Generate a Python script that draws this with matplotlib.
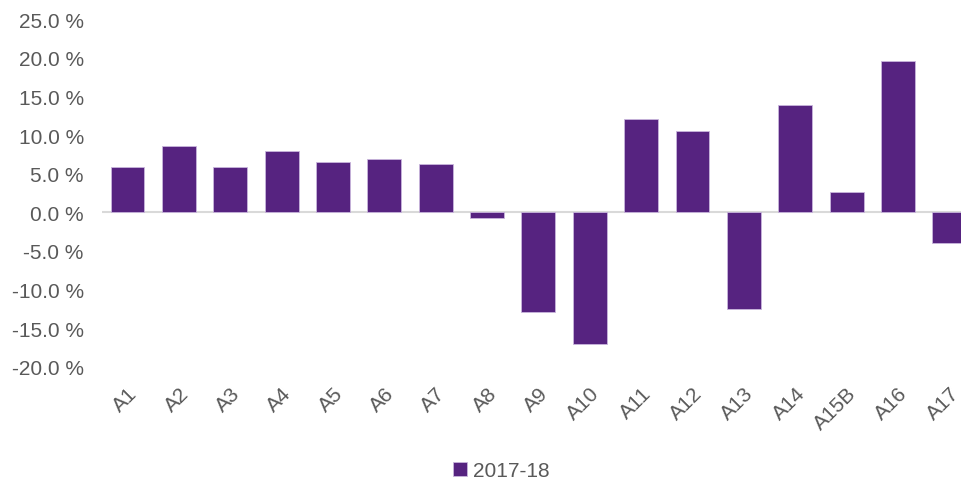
import matplotlib.pyplot as plt
import numpy as np
from matplotlib.ticker import FuncFormatter

plt.rcParams['font.family'] = ['Liberation Sans', 'DejaVu Sans']

categories = ["A1", "A2", "A3", "A4", "A5", "A6", "A7", "A8", "A9", "A10",
              "A11", "A12", "A13", "A14", "A15B", "A16", "A17"]
values = [5.8, 8.6, 5.8, 7.9, 6.5, 6.9, 6.2, -0.8, -12.9, -17.0,
          12.1, 10.5, -12.5, 13.9, 2.6, 19.6, -4.0]
series_name = "2017-18"
yticks = [-20, -15, -10, -5, 0, 5, 10, 15, 20, 25]

purple = "#562380"
grey_text = "#595959"

fig = plt.figure(figsize=(9.61, 4.81), dpi=100)
ax = fig.add_axes([0.106, 0.2356, 0.9086, 0.7224])

x = np.arange(len(categories))
bars = ax.bar(x, values, width=0.66, color=purple, edgecolor="#c9b6dc",
              linewidth=0.6, label=series_name, zorder=2)

# zero line
ax.axhline(0, color="#d9d9d9", linewidth=1.5, zorder=1)

ax.set_xlim(-0.5, len(categories) - 0.5)
ax.set_ylim(-20, 25)
ax.set_yticks(yticks)
ax.yaxis.set_major_formatter(FuncFormatter(lambda v, p: "%.1f %%" % v))
ax.set_xticks(x)
ax.set_xticklabels(categories, rotation=45, ha="right", rotation_mode="anchor")

for s in ax.spines.values():
    s.set_visible(False)
ax.tick_params(axis="y", length=0, pad=13, labelsize=15, labelcolor=grey_text)
ax.tick_params(axis="x", length=0, pad=12, labelsize=15, labelcolor=grey_text)

fig.legend(handles=[bars], labels=[series_name], loc="center",
           bbox_to_anchor=(0.522, 0.02), frameon=False, fontsize=15,
           handlelength=0.65, handleheight=0.65, handletextpad=0.3,
           labelcolor=grey_text)

fig.savefig("out.png", dpi=100)
